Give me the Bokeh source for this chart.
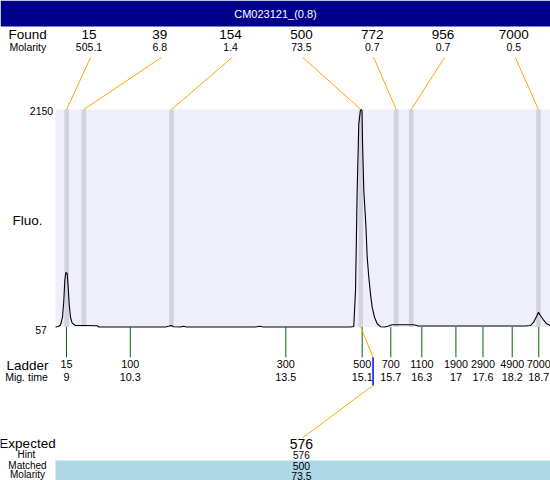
from bokeh.plotting import figure
from bokeh.models import Range1d
from bokeh.core.properties import value
from bokeh.embed import file_html
from bokeh.resources import INLINE

# ---------------- data ----------------
title = "CM023121_(0.8)"
found_sizes = ["15", "39", "154", "500", "772", "956", "7000"]
found_molarity = ["505.1", "6.8", "1.4", "73.5", "0.7", "0.7", "0.5"]
found_times = [9.004, 9.356, 11.158, 15.048, 15.776, 16.084, 18.70]

ladder_sizes = ["15", "100", "300", "500", "700", "1100", "1900", "2900", "4900", "7000"]
ladder_times = [9.0, 10.311, 13.507, 15.077, 15.665, 16.302, 17.003, 17.56, 18.16, 18.706]
ladder_time_labels = ["9", "10.3", "13.5", "15.1", "15.7", "16.3", "17", "17.6", "18.2", "18.7"]

fluo_min, fluo_max = 57, 2150
time_min, time_max = 8.774, 18.947

trace_time = [8.774, 8.836, 8.877, 8.918, 8.945, 8.965, 8.986, 9.014, 9.035, 9.055,
              9.082, 9.117, 9.185, 9.39, 9.631, 9.664, 11.035, 11.096, 11.152, 11.199,
              11.343, 11.404, 11.466, 12.884, 12.966, 13.048, 14.836, 14.904, 14.94, 14.974,
              15.007, 15.042, 15.056, 15.073, 15.083, 15.11, 15.151, 15.18, 15.213, 15.247,
              15.282, 15.33, 15.385, 15.453, 15.535, 15.603, 15.693, 16.137, 16.23, 16.48,
              17.51, 18.43, 18.536, 18.6, 18.66, 18.70, 18.74, 18.81, 18.86, 18.947]
trace_fluo = [57, 62, 76, 151, 312, 504, 581, 575, 440, 280,
              151, 94, 71, 71, 69, 57, 57, 64, 71, 60,
              57, 64, 57, 57, 64, 57, 57, 62, 408, 1370,
              2012, 2145, 2150, 2140, 1850, 1370, 1050, 729, 536, 376,
              248, 151, 88, 60, 57, 64, 78, 78, 67, 67,
              67, 67, 71, 103, 158, 199, 168, 120, 91, 71]

expected_size = "576"
expected_time = 15.30
hint_size = "576"
matched_size = "500"
matched_molarity = "73.5"
matched_index = 3

# ---------------- layout helpers (reference pixel grid 550 x 480) ----------------
W, H = 550, 480
REF_W, REF_H = 550, 480
S = W / REF_W
PLOT_L, PLOT_R, PLOT_T, PLOT_B = 55, 550, 109, 326.5


def tx(px):
    return time_min + (px - PLOT_L) * (time_max - time_min) / (PLOT_R - PLOT_L)


def fy(py):
    return fluo_min + (PLOT_B - py) * (fluo_max - fluo_min) / (PLOT_B - PLOT_T)


def fs(size):
    return "%.1fpx" % (size * S)


FONT = value("Liberation Sans")

p = figure(width=W, height=H, x_range=Range1d(tx(0), tx(REF_W)), y_range=Range1d(fy(REF_H), fy(0)),
           output_backend="svg", toolbar_location=None, x_axis_type=None, y_axis_type=None,
           min_border=0, outline_line_color=None, background_fill_color="white",
           border_fill_color="white")


def txt(xs, ys, texts, size, align="center", color="black", font=FONT):
    p.text(x=xs, y=ys, text=texts, text_font=font, text_font_size=fs(size),
           text_align=align, text_baseline="middle", text_color=color)


# banner
p.quad(left=[tx(0)], right=[tx(REF_W)], top=[fy(0)], bottom=[fy(26)], fill_color="#00008b", line_color=None)
txt([tx(275)], [fy(13.5)], [title], 11, color="white")

# plot area
p.quad(left=[time_min], right=[time_max], bottom=[fluo_min], top=[fluo_max], fill_color="#efeffc", line_color=None)
p.vbar(x=found_times, width=0.095, bottom=fluo_min, top=fluo_max, fill_color="#d3d3e0", line_color=None)
p.line(trace_time, trace_fluo, line_color="black", line_width=1.1)

# found row
label_px = [88.5 + 70.8 * i for i in range(len(found_sizes))]
label_x = [tx(v) for v in label_px]
txt([tx(8)], [fy(34)], ["Found"], 13.5, align="left")
txt([tx(9)], [fy(46)], ["Molarity"], 10.5, align="left")
txt(label_x, [fy(34)] * len(label_x), found_sizes, 13.5)
txt(label_x, [fy(46.2)] * len(label_x), found_molarity, 10.5)
p.segment(x0=[tx(v + 1.5) for v in label_px], y0=[fy(57)] * len(label_px),
          x1=found_times, y1=[fluo_max] * len(found_times), line_color="orange", line_width=1)

# y labels
txt([tx(41)], [fy(110.5)], [str(fluo_max)], 10.5)
txt([tx(40.5)], [fy(329.5)], [str(fluo_min)], 10.5)
txt([tx(12)], [fy(220)], ["Fluo."], 13.5, align="left")

# ladder
p.segment(x0=ladder_times, y0=[fluo_min] * len(ladder_times), x1=ladder_times,
          y1=[fy(356.7)] * len(ladder_times), line_color="#006400", line_width=1)
txt([tx(27)], [fy(364.5)], ["Ladder"], 13.5)
txt([tx(26)], [fy(376.5)], ["Mig. time"], 10.5)
txt(ladder_times, [fy(363.3)] * len(ladder_times), ladder_sizes, 10.8)
txt(ladder_times, [fy(376)] * len(ladder_times), ladder_time_labels, 10.8)

# expected connector
mt = found_times[matched_index]
p.line([mt, expected_time], [fluo_min, fy(356.7)], line_color="orange", line_width=1)
p.line([expected_time, expected_time], [fy(356.7), fy(385)], line_color="blue", line_width=1.5)
p.line([expected_time, tx(label_px[matched_index] + 1.5)], [fy(385), fy(437)], line_color="orange", line_width=1)

# bottom table
p.quad(left=[time_min], right=[time_max], top=[fy(460)], bottom=[fy(REF_H)], fill_color="#add8e6", line_color=None)
cx = tx(label_px[matched_index])
txt([tx(27)], [fy(443)], ["Expected"], 13.5)
txt([tx(26)], [fy(454)], ["Hint"], 10)
txt([tx(27)], [fy(464.5)], ["Matched"], 10)
txt([tx(27)], [fy(474)], ["Molarity"], 10)
txt([cx], [fy(443)], [expected_size], 14)
txt([cx], [fy(454.5)], [hint_size], 10)
txt([cx], [fy(465)], [matched_size], 10.5)
txt([cx], [fy(475)], [matched_molarity], 10.5)

open("out.html", "w").write(file_html(p, INLINE))
